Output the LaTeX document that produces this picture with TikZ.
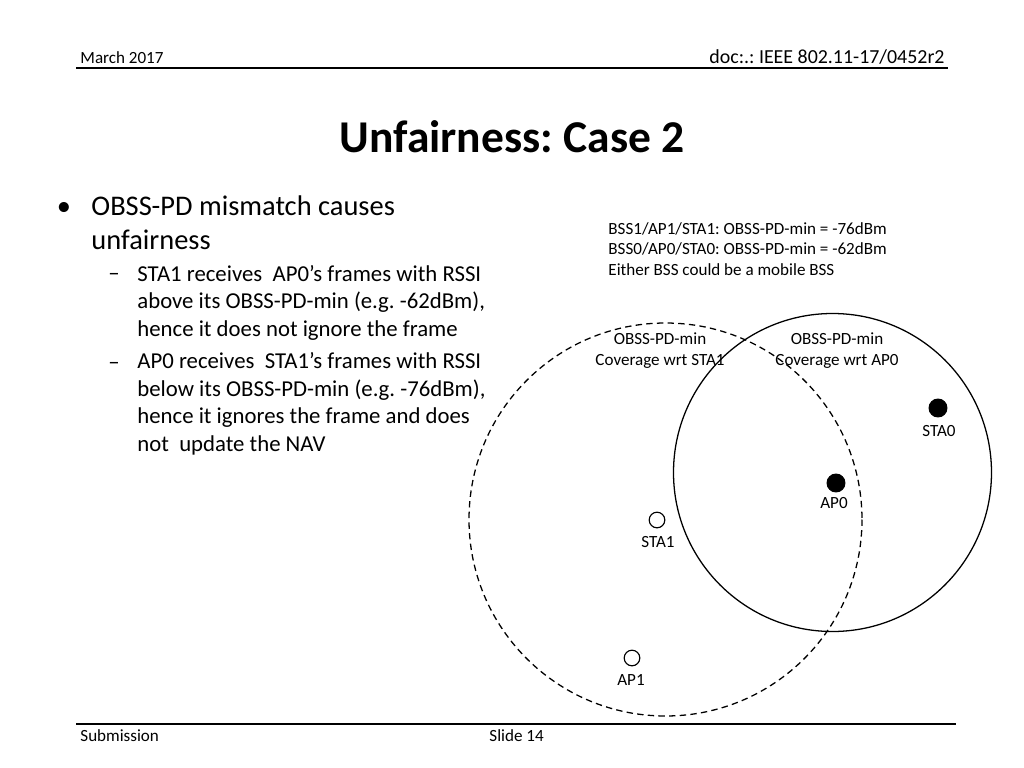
\documentclass[tikz,border=0pt]{standalone}
\usepackage{fontspec}
\setmainfont{Carlito}
\frenchspacing
\tikzset{
  hdr/.style={inner sep=0pt, font=\fontsize{12}{14}\selectfont},
  ttl/.style={inner sep=0pt, font=\fontsize{32}{38}\selectfont\bfseries},
  lvlone/.style={inner sep=0pt, anchor=base west, align=left, font=\fontsize{20}{23.9}\selectfont},
  lvltwo/.style={inner sep=0pt, anchor=base west, align=left, font=\fontsize{16}{19.3}\selectfont},
  lbl/.style={inner sep=0pt, font=\fontsize{12}{14.4}\selectfont},
  station/.style={circle, draw, line width=0.8pt, minimum size=11pt, inner sep=0pt},
  filled/.style={station, fill=black, minimum size=12.5pt},
  coverline/.style={line width=0.9pt},
  obssline/.style={coverline, dash pattern=on 4.5pt off 3pt}
}
\begin{document}
\begin{tikzpicture}[x=0.703pt, y=-0.703pt, line width=0.6pt]
\useasboundingbox (0,0) rectangle (1024,768);
\node[hdr, anchor=base west] (date) at (80,63) {March 2017};
\node[hdr, anchor=base east, font=\fontsize{14}{16}\selectfont] (doc) at (945,63) {doc:.: IEEE 802.11-17/0452r2};
\draw[line width=1.3pt] (76,68) -- (948,68);
\node[ttl] (title) at (512,137) {Unfairness: Case 2};
\node[lvlone, anchor=base] (b1) at (64,215) {\textbullet};
\node[lvlone] (t1) at (91,249) {OBSS-PD mismatch causes\\unfairness};
\node[lvltwo] (d1) at (108,280) {\textendash};
\node[lvltwo] (t2) at (137,336) {STA1 receives\ \ AP0’s frames with RSSI\\above its OBSS-PD-min (e.g. -62dBm),\\hence it does not ignore the frame};
\node[lvltwo] (d2) at (108,369) {\textendash};
\node[lvltwo] (t3) at (137,451) {AP0 receives\ \ STA1’s frames with RSSI\\below its OBSS-PD-min (e.g. -76dBm),\\hence it ignores the frame and does\\not\ \ update the NAV};
\node[lbl, anchor=base west, align=left] (cfg) at (608,275) {BSS1/AP1/STA1: OBSS-PD-min = -76dBm\\BSS0/AP0/STA0: OBSS-PD-min = -62dBm\\Either BSS could be a mobile BSS};
\draw[obssline] (665.5,519.5) circle (196.5);
\draw[coverline] (832.5,472.5) circle (159);
\node[lbl, align=center, anchor=base] (covsta) at (660,365) {OBSS-PD-min\\Coverage wrt STA1};
\node[lbl, align=center, anchor=base] (covap) at (837,365) {OBSS-PD-min\\Coverage wrt AP0};
\node[filled] (sta0) at (938,408) {};
\node[lbl, anchor=base] (sta0l) at (939,436) {STA0};
\node[filled] (ap0) at (836,483) {};
\node[lbl, anchor=base] (ap0l) at (834,508) {AP0};
\node[station] (sta1) at (657,520) {};
\node[lbl, anchor=base] (sta1l) at (658,547) {STA1};
\node[station] (ap1) at (632,658) {};
\node[lbl, anchor=base] (ap1l) at (631,685) {AP1};
\draw[line width=1.3pt] (76,724) -- (956,724);
\node[hdr, anchor=base west] (sub) at (80,741) {Submission};
\node[hdr, anchor=base west] (slide) at (489,741) {Slide 14};
\end{tikzpicture}
\end{document}
